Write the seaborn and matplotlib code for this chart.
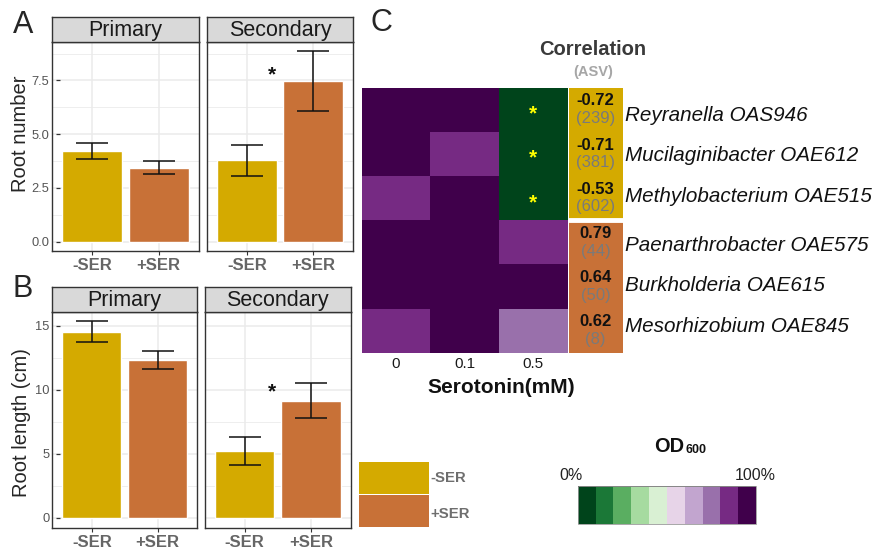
import numpy as np
import pandas as pd
import matplotlib
matplotlib.use("Agg")
import matplotlib.pyplot as plt
from matplotlib.colors import ListedColormap
import seaborn as sns

# ---------------- data ----------------
treatments = ["-SER", "+SER"]
root_types = ["Primary", "Secondary"]

num_mean = {"Primary": [4.23, 3.44], "Secondary": [3.81, 7.47]}
num_lo = {"Primary": [3.86, 3.15], "Secondary": [3.07, 6.08]}
num_hi = {"Primary": [4.58, 3.73], "Secondary": [4.49, 8.86]}

len_mean = {"Primary": [14.53, 12.35], "Secondary": [5.25, 9.15]}
len_lo = {"Primary": [13.70, 11.65], "Secondary": [4.13, 7.77]}
len_hi = {"Primary": [15.39, 13.00], "Secondary": [6.29, 10.53]}

serotonin = ["0", "0.1", "0.5"]
species = ["Reyranella OAS946", "Mucilaginibacter OAE612", "Methylobacterium OAE515",
           "Paenarthrobacter OAE575", "Burkholderia OAE615", "Mesorhizobium OAE845"]
od600 = [[95, 95, 5],
         [95, 85, 5],
         [85, 95, 5],
         [95, 95, 85],
         [95, 95, 95],
         [85, 95, 75]]
signif = [[False, False, True],
          [False, False, True],
          [False, False, True],
          [False, False, False],
          [False, False, False],
          [False, False, False]]
correlation = [-0.72, -0.71, -0.53, 0.79, 0.64, 0.62]
asv_count = [239, 381, 602, 44, 50, 8]

od_colors = ["#00441b", "#1b7837", "#5aae61", "#a6dba0", "#d9f0d3",
             "#e7d4e8", "#c2a5cf", "#9970ab", "#762a83", "#40004b"]

YELLOW = "#D4AA00"
ORANGE = "#C87137"
palette = {"-SER": YELLOW, "+SER": ORANGE}

# ---------------- style ----------------
sns.set_theme(style="white")
plt.rcParams["font.family"] = ["Liberation Sans", "DejaVu Sans"]

W, H = 875, 548
fig = plt.figure(figsize=(W / 100, H / 100), dpi=100)


def box(l, t, r, b):
    return [l / W, 1 - b / H, (r - l) / W, (b - t) / H]


def fx(x):
    return x / W


def fy(y):
    return 1 - y / H


def bar_panel(rect, strip_rect, title, means, lo, hi, ylim, major, minor, star=None,
              show_y=True, ylabels=None):
    ax = fig.add_axes(box(*rect))
    df = pd.DataFrame({"treatment": treatments, "value": means})
    # grid
    for v in minor:
        ax.axhline(v, color="#EBEBEB", lw=0.6, zorder=0)
    for v in major:
        ax.axhline(v, color="#EBEBEB", lw=1.1, zorder=0)
    for v in [0, 1]:
        ax.axvline(v, color="#EBEBEB", lw=1.1, zorder=0)
    sns.barplot(data=df, x="treatment", y="value", hue="treatment", palette=palette,
                order=treatments, width=0.9, errorbar=None, legend=False, ax=ax,
                saturation=1, zorder=2)
    means_a = np.array(means)
    yerr = np.vstack([means_a - np.array(lo), np.array(hi) - means_a])
    ax.errorbar([0, 1], means_a, yerr=yerr, fmt="none", ecolor="#111111",
                elinewidth=1.1, capsize=11.5, capthick=1.1, zorder=3)
    ax.set_xlim(-0.6, 1.6)
    ax.set_ylim(*ylim)
    ax.set_yticks(major)
    if ylabels is not None:
        ax.set_yticklabels(ylabels)
    ax.set_xlabel("")
    ax.set_ylabel("")
    ax.tick_params(axis="x", which="both", direction="out", length=3, width=0.8,
                   color="#333333", bottom=True, labelsize=12, labelcolor="#666666", pad=2)
    ax.tick_params(axis="y", which="both", length=0, left=True, labelsize=9.3,
                   labelcolor="#555555", pad=2)
    for lab in ax.get_xticklabels():
        lab.set_fontweight("bold")
    if show_y:
        ytr = ax.get_yaxis_transform()
        for v in major:
            ax.plot([0.026, 0.052], [v, v], transform=ytr, color="#333333", lw=0.9,
                    zorder=5, solid_capstyle="butt")
    else:
        ax.tick_params(axis="y", left=False, labelleft=False)
    for s in ax.spines.values():
        s.set_color("#333333")
        s.set_linewidth(1.0)
    ax.grid(False)
    if star is not None:
        ax.text(star[0], star[1], "*", ha="center", va="center", fontsize=15,
                fontweight="bold", color="#111111", zorder=4)
    # strip
    sax = fig.add_axes(box(*strip_rect))
    sax.set_facecolor("#D9D9D9")
    sax.set_xticks([])
    sax.set_yticks([])
    for s in sax.spines.values():
        s.set_color("#333333")
        s.set_linewidth(1.0)
    sax.text(0.5, 0.45, title, transform=sax.transAxes, ha="center", va="center",
             fontsize=15.5, color="#1a1a1a")
    return ax


# Panel A
yA = (-0.44, 9.29)
majA = [0.0, 2.5, 5.0, 7.5]
minA = [1.25, 3.75, 6.25, 8.75]
axA1 = bar_panel((52.3, 42, 198.5, 251), (52.3, 17, 198.5, 42), "Primary",
                 num_mean["Primary"], num_lo["Primary"], num_hi["Primary"], yA, majA, minA,
                 ylabels=["0.0", "2.5", "5.0", "7.5"])
axA2 = bar_panel((207, 42, 353.3, 251), (207, 17, 353.3, 42), "Secondary",
                 num_mean["Secondary"], num_lo["Secondary"], num_hi["Secondary"], yA, majA, minA,
                 star=(0.38, 7.75), show_y=False)

# Panel B
yB = (-0.77, 16.1)
majB = [0, 5, 10, 15]
minB = [2.5, 7.5, 12.5]
axB1 = bar_panel((52.3, 311.7, 197, 527.7), (52.3, 286.7, 197, 311.7), "Primary",
                 len_mean["Primary"], len_lo["Primary"], len_hi["Primary"], yB, majB, minB)
axB2 = bar_panel((205, 311.7, 350.5, 527.7), (205, 286.7, 350.5, 311.7), "Secondary",
                 len_mean["Secondary"], len_lo["Secondary"], len_hi["Secondary"], yB, majB, minB,
                 star=(0.41, 9.85), show_y=False)

fig.text(fx(20.5), fy(134), "Root number", rotation=90, ha="center", va="center", fontsize=14.5)
fig.text(fx(21.5), fy(423), "Root length (cm)", rotation=90, ha="center", va="center", fontsize=14.5)

# Panel letters
fig.text(fx(23), fy(25), "A", ha="center", va="center", fontsize=22)
fig.text(fx(23), fy(289), "B", ha="center", va="center", fontsize=22)
fig.text(fx(381), fy(23), "C", ha="center", va="center", fontsize=22)

# ---------------- heatmap ----------------
hax = fig.add_axes(box(361.7, 87.7, 567.7, 352.7))
hm = pd.DataFrame(od600, index=species, columns=serotonin)
cmap = ListedColormap(od_colors)
sns.heatmap(hm, cmap=cmap, vmin=0, vmax=100, cbar=False, ax=hax, linewidths=0)
hax.set_xlabel("")
hax.set_ylabel("")
hax.set_yticks([])
hax.tick_params(axis="x", length=0, labelsize=11, labelcolor="#1a1a1a", pad=3, rotation=0)
for i in range(len(species)):
    for j in range(len(serotonin)):
        if signif[i][j]:
            hax.text(j + 0.5, i + 0.6, "*", ha="center", va="center", fontsize=15,
                     fontweight="bold", color="#FFFF00")

fig.text(fx(501.7), fy(387.3), "Serotonin(mM)", ha="center", va="center",
         fontsize=15, fontweight="bold", color="#111111")

# correlation boxes
cax = fig.add_axes(box(568.7, 87.7, 622.7, 352.7))
ypos = np.arange(len(species)) + 0.5
ccolors = [YELLOW if c < 0 else ORANGE for c in correlation]
cax.barh(ypos, [1] * len(species), height=1.0, color=ccolors, linewidth=0)
cax.set_xlim(0, 1)
cax.set_ylim(len(species), 0)
cax.axis("off")
for i in range(len(species) - 1):
    if (correlation[i] < 0) != (correlation[i + 1] < 0):
        cax.axhline(i + 1, color="white", lw=3.5)
for i, (c, n) in enumerate(zip(correlation, asv_count)):
    cax.text(0.5, i + 0.30, f"{c:.2f}", ha="center", va="center", fontsize=12,
             fontweight="bold", color="#111111")
    cax.text(0.5, i + 0.70, f"({n})", ha="center", va="center", fontsize=12,
             color="#7a7a7a")
    g = 0 if i < 3 else 1
    mid = 1 + 3 * g
    ycap = 154 + g * 130 + (i - mid) * 40.3
    fig.text(fx(625), fy(ycap + 7.4), species[i], ha="left", va="baseline",
             fontsize=14.9, style="italic", color="#111111")

fig.text(fx(593), fy(49.3), "Correlation", ha="center", va="center", fontsize=14.5,
         fontweight="bold", color="#3a3a3a")
fig.text(fx(593), fy(71.7), "(ASV)", ha="center", va="center", fontsize=10.5,
         fontweight="bold", color="#A6A6A6")

# ---------------- legend ----------------
lax = fig.add_axes(box(359, 461, 429.3, 527.7))
lax.barh([0.25, 0.75], [1, 1], height=0.475, color=[YELLOW, ORANGE], linewidth=0)
lax.set_xlim(0, 1)
lax.set_ylim(1, 0)
lax.axis("off")
fig.text(fx(430.7), fy(478), "-SER", ha="left", va="center", fontsize=10.7,
         fontweight="bold", color="#6E6E6E")
fig.text(fx(430.7), fy(514), "+SER", ha="left", va="center", fontsize=10.7,
         fontweight="bold", color="#6E6E6E")

# ---------------- colorbar ----------------
cbax = fig.add_axes(box(577.7, 486, 756, 524.3))
mappable = hax.collections[0]
cb = fig.colorbar(mappable, cax=cbax, orientation="horizontal")
cb.set_ticks([])
cb.outline.set_edgecolor("#999999")
cb.outline.set_linewidth(0.6)
cbax.axhline(1.0, color="#111111", lw=1.2)
fig.text(fx(570.7), fy(475), "0%", ha="center", va="center", fontsize=11.5, color="#222222")
fig.text(fx(755), fy(475), "100%", ha="center", va="center", fontsize=11.5, color="#222222")
fig.text(fx(684.5), fy(446), "OD", ha="right", va="center", fontsize=14.4,
         fontweight="bold", color="#111111")
fig.text(fx(685), fy(450), "600", ha="left", va="center", fontsize=9,
         fontweight="bold", color="#111111")

fig.savefig("out.png", dpi=100)
